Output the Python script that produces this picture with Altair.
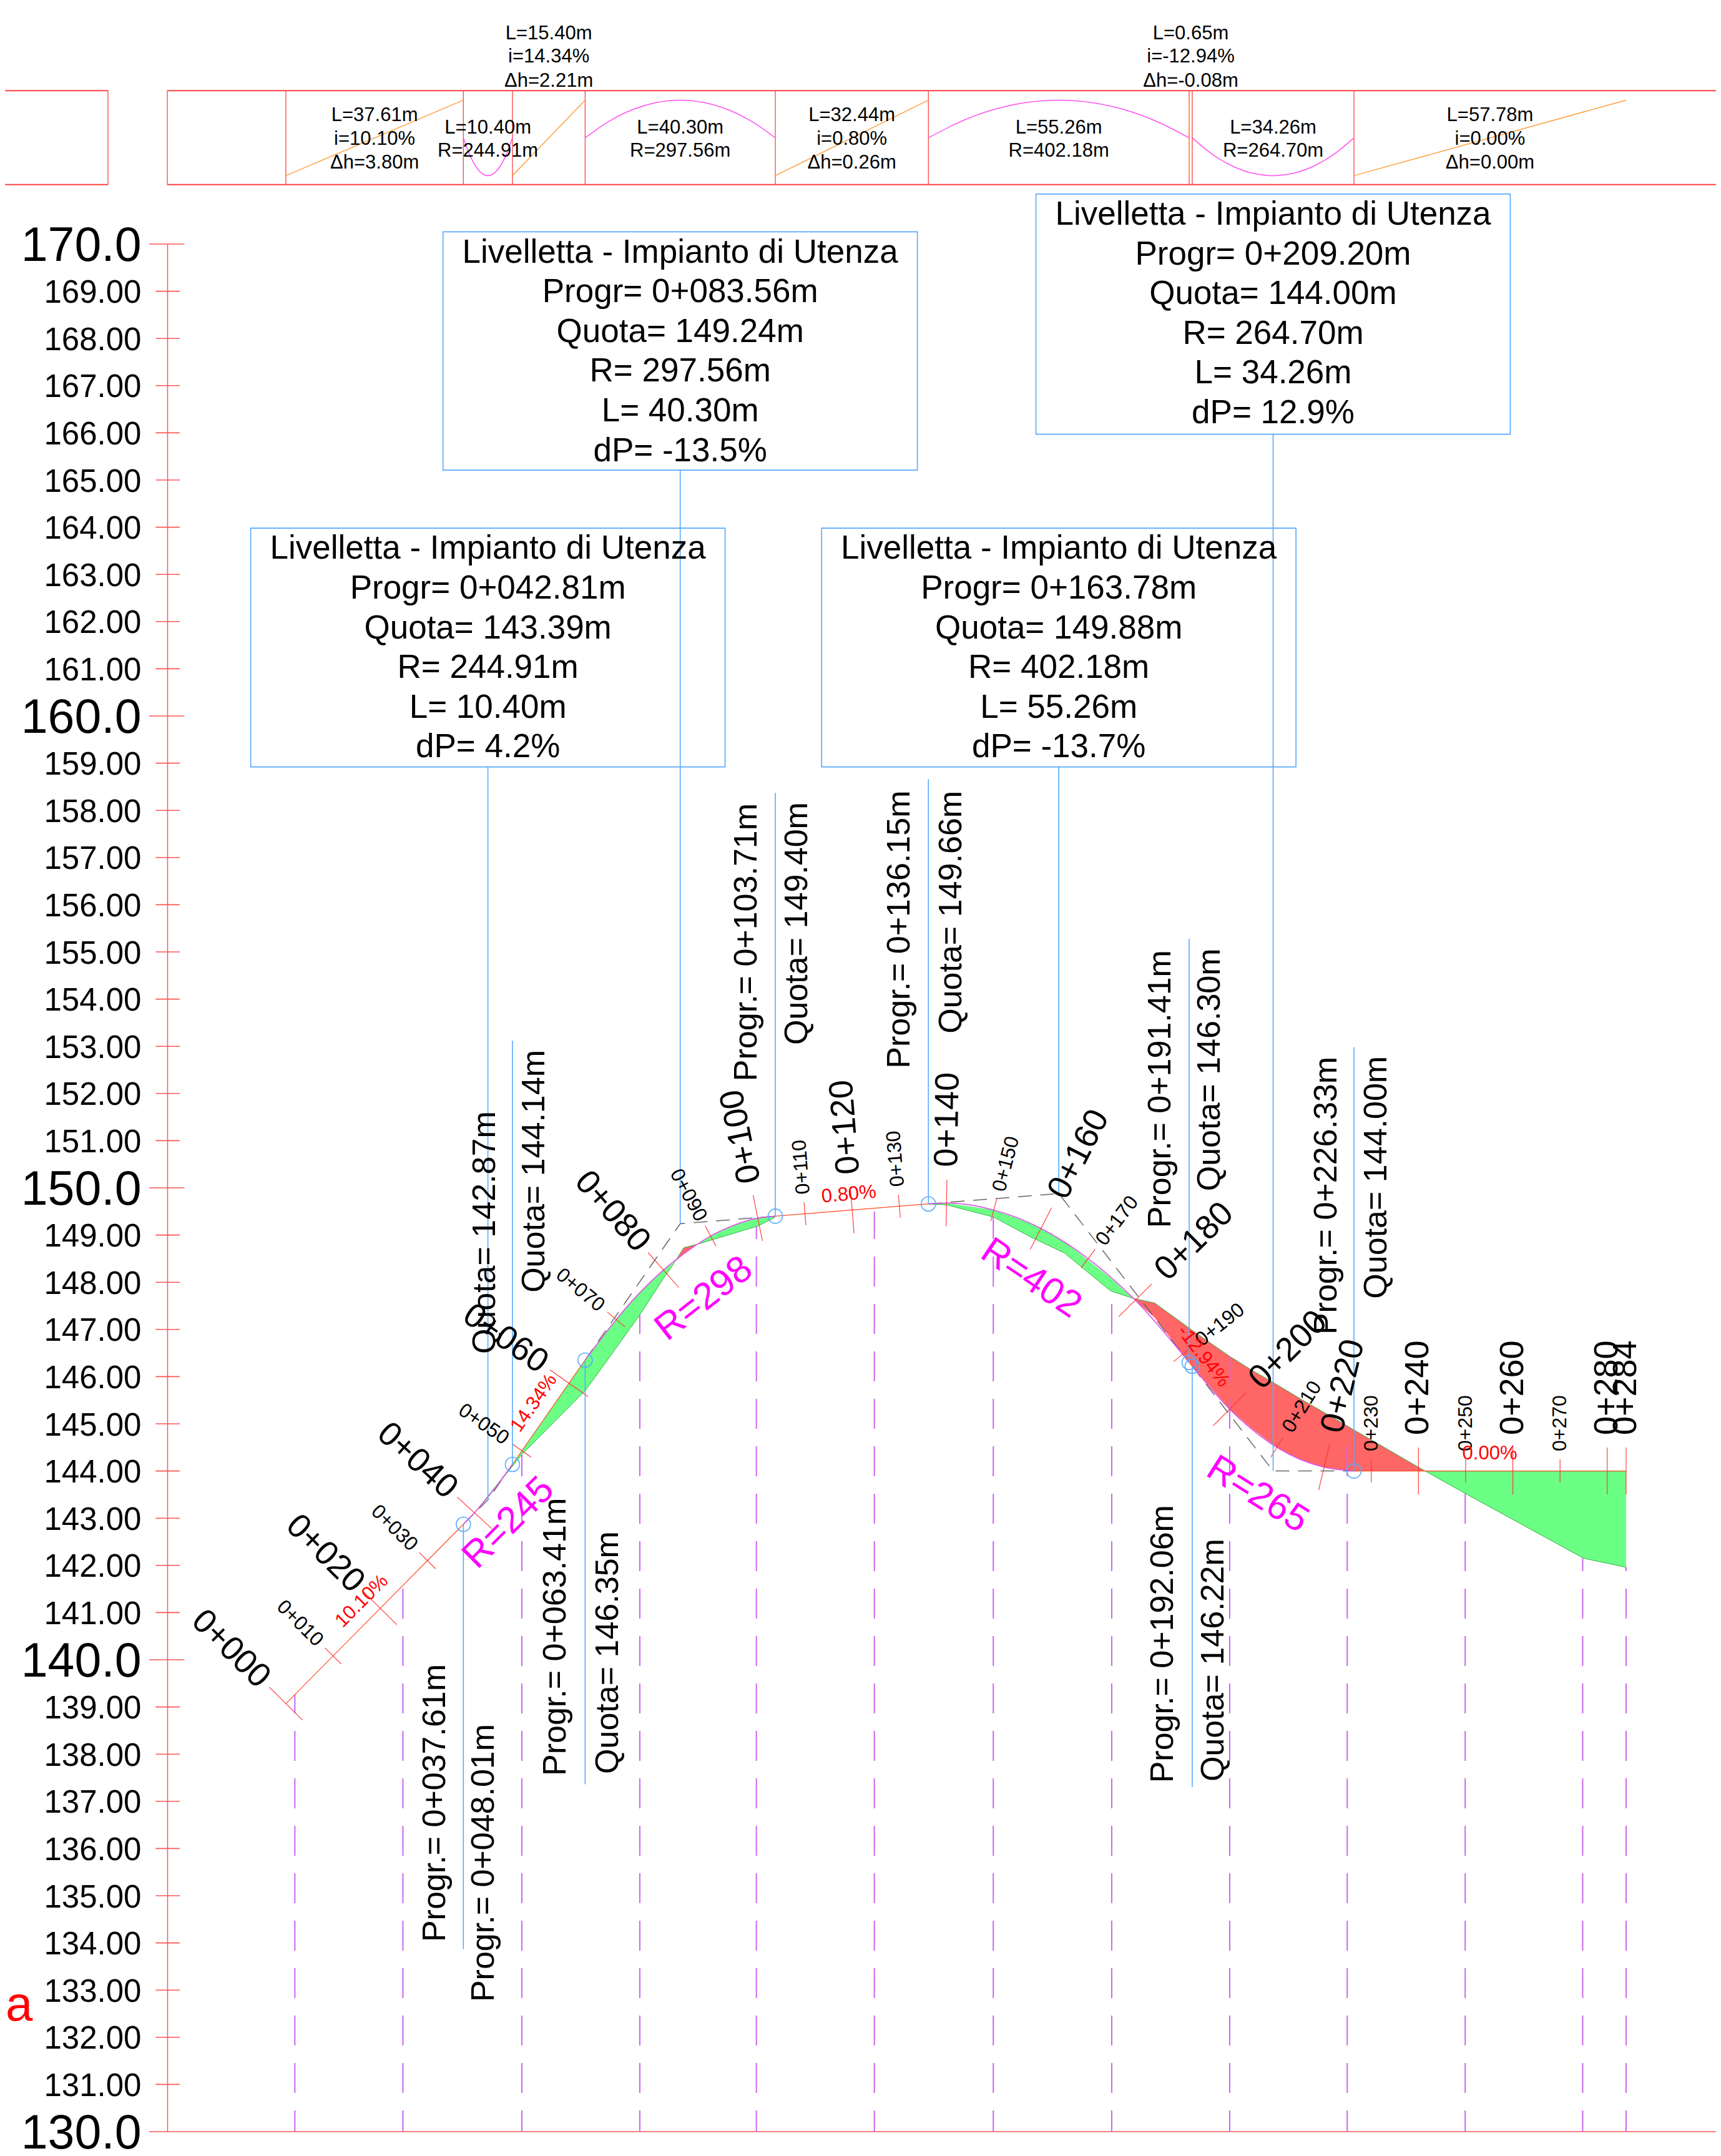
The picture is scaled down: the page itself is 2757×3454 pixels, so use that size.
import math
import altair as alt
import pandas as pd

FONT = "Liberation Sans"
PX_M_X, PX_M_Y = 7.56, 75.6
S_MIN, S_MAX = -25.13, 303.05
xs = alt.Scale(domain=[S_MIN, S_MAX], nice=False, zero=False)
ys = alt.Scale(domain=[130, 170], nice=False, zero=False)

elev_ticks = list(range(130, 171))
yaxis = alt.Axis(
    values=elev_ticks, title=None, grid=False, ticks=False, domain=True,
    domainColor="#FF5555", domainWidth=1.5, labelColor="#000000", labelFont=FONT,
    labelPadding=42, labelOverlap=False, labelFlush=False, labelBound=False, labelLimit=0, labelOffset=3,
    labelExpr="datum.value % 10 === 0 ? format(datum.value,'.1f') : format(datum.value,'.2f')",
    labelFontSize={"condition": {"test": "datum.value % 10 === 0", "value": 77}, "value": 51},
)
def X(f="s"):
    return alt.X(f"{f}:Q", scale=xs, axis=None)
def Y(f="e"):
    return alt.Y(f"{f}:Q", scale=ys, axis=yaxis)

# ---- profile values
T_s = [[0, 37.61], [48.01, 63.41], [103.71, 136.15], [191.41, 192.06], [226.33, 284]]
T_e = [[139.07, 142.87], [144.14, 146.35], [149.40, 149.66], [146.30, 146.22], [144.0, 144.0]]
C_s = [[37.61, 40, 42.81, 45.41, 48.01],
       [63.41, 70, 75, 80, 84.3, 90, 95, 100, 103.71],
       [136.15, 140, 150, 160, 170, 180, 191.41],
       [192.06, 200, 210, 220, 226.33]]
C_e = [[142.87, 143.12, 143.45, 143.78, 144.14],
       [146.35, 147.21, 147.78, 148.26, 148.60, 148.98, 149.21, 149.36, 149.40],
       [149.66, 149.68, 149.53, 149.14, 148.50, 147.62, 146.30],
       [146.22, 145.31, 144.50, 144.08, 144.00]]
PVI_s = [[37.61, 42.81, 48.01], [63.41, 83.56, 103.71], [136.15, 163.78, 191.41], [192.06, 209.20, 226.33]]
PVI_e = [[142.87, 143.39, 144.14], [146.35, 149.24, 149.40], [149.66, 149.88, 146.30], [146.22, 144.0, 144.0]]

green_s = [[40, 48.01, 50, 63.41, 70, 75, 80, 82.5], [87, 90, 95, 100, 103.71],
           [136.15, 140, 150, 157.8, 165, 174.7, 179.5], [241.4, 250, 275, 284]]
green_road = [[143.12, 144.14, 144.43, 146.35, 147.21, 147.78, 148.26, 148.44],
              [148.80, 148.98, 149.21, 149.36, 149.40],
              [149.66, 149.68, 149.53, 149.25, 148.86, 148.10, 147.66],
              [144, 144, 144, 144]]
green_terr = [[143.12, 144.10, 144.35, 145.70, 146.61, 147.31, 148.08, 148.44],
              [148.80, 148.89, 149.04, 149.19, 149.38],
              [149.66, 149.64, 149.38, 148.96, 148.62, 147.82, 147.66],
              [144, 143.52, 142.15, 141.96]]
red_s = [[82.5, 84.3, 87],
         [179.5, 184.1, 191.41, 192.06, 200, 204.8, 210, 215, 220, 225, 226.33, 230, 240, 241.4]]
red_road = [[148.44, 148.60, 148.80],
            [147.66, 147.25, 146.30, 146.22, 145.31, 144.89, 144.50, 144.24, 144.08, 144.01, 144, 144, 144, 144]]
red_terr = [[148.44, 148.73, 148.80],
            [147.66, 147.56, 147.03, 146.98, 146.43, 146.13, 145.83, 145.53, 145.24, 144.95, 144.87, 144.66, 144.08, 144]]

dash_s = [1.9, 24.8, 50, 75, 99.7, 124.7, 149.9, 175, 200, 224.9, 249.9, 274.8, 284]
dash_e = [139.27, 141.59, 144.35, 147.31, 149.19, 149.50, 149.38, 147.82, 146.43, 144.95, 143.52, 142.15, 141.96]

tick_s = [0, 10, 20, 30, 40, 50, 60, 70, 80, 90, 100, 110, 120, 130, 140, 150, 160, 170, 180, 190, 200, 210, 220, 230, 240, 250, 260, 270, 280, 284]
tick_e = [139.07, 140.08, 141.09, 142.10, 143.11, 144.43, 145.86, 147.21, 148.26, 148.98, 149.36, 149.45, 149.53, 149.61,
          149.68, 149.53, 149.14, 148.50, 147.62, 146.47, 145.31, 144.50, 144.08, 144, 144, 144, 144, 144, 144, 144]
tick_g = [.101, .101, .101, .101, .11, .1434, .1434, .1212, .0876, .054, .0204, .008, .008, .008,
          -.0016, -.0264, -.0513, -.0762, -.101, -.126, -.0994, -.0617, -.0239, 0, 0, 0, 0, 0, 0, 0]
tick_lab = ["0+%03d" % v for v in tick_s]

ticks, lab_r, lab_l = [], [], []
for s, e, g, t in zip(tick_s, tick_e, tick_g, tick_lab):
    major = s % 20 == 0 or s == 284
    half = 37.5 if major else 18.5
    n = math.hypot(10 * g, 1)
    ux, uy = -10 * g / n, -1 / n
    ticks.append(dict(s=s + half * ux / PX_M_X, e=e - half * uy / PX_M_Y,
                      s2=s - half * ux / PX_M_X, e2=e + half * uy / PX_M_Y))
    fs = 54 if major else 32
    down = g > 0.03
    gap = 11 if down else (20 if major else 13)
    row = dict(s=s + (half + gap) * ux / PX_M_X, e=e - (half + gap) * uy / PX_M_Y, t=t, fs=fs)
    if down:
        row["a"] = math.degrees(math.atan2(-uy, -ux)) % 360
        lab_r.append(row)
    else:
        row["a"] = math.degrees(math.atan2(uy, ux)) % 360
        lab_l.append(row)

# axis cross-ticks
axtick_s = [-29.0 if v % 10 == 0 else -27.6 for v in elev_ticks]
axtick_s2 = [303.05 if v == 130 else (-21.5 if v % 10 == 0 else -22.5) for v in elev_ticks]

# blue leader lines
blue_s = [37.61, 48.01, 63.41, 103.71, 136.15, 191.41, 192.06, 226.33, 42.81, 83.56, 163.78, 209.20]
blue_a = [142.87, 144.14, 146.35, 149.40, 149.66, 146.30, 146.22, 144.00, 143.39, 149.24, 149.88, 144.00]
blue_b = [133.87, 153.12, 137.36, 158.37, 158.66, 155.28, 137.30, 152.98, 158.92, 165.21, 158.92, 165.97]
circ_s = blue_s[:8]
circ_e = blue_a[:8]

# rotated vertical notes
note_t = ["Progr.= 0+037.61m", "Quota= 142.87m", "Progr.= 0+048.01m", "Quota= 144.14m",
          "Progr.= 0+063.41m", "Quota= 146.35m", "Progr.= 0+103.71m", "Quota= 149.40m",
          "Progr.= 0+136.15m", "Quota= 149.66m", "Progr.= 0+191.41m", "Quota= 146.30m",
          "Progr.= 0+192.06m", "Quota= 146.22m", "Progr.= 0+226.33m", "Quota= 144.00m"]
note_s = [31.6, 42.2, 41.9, 52.6, 57.1, 68.3, 97.6, 108.4, 130.0, 141.0, 185.3, 195.8, 185.8, 196.6, 220.5, 231.1]
note_e = [134.02, 146.48, 132.75, 147.78, 137.54, 137.58, 152.26, 153.03, 152.53, 153.27, 149.15, 149.93, 137.39, 137.42, 146.89, 147.65]

# radius labels
rad_t = ["R=245", "R=298", "R=402", "R=265"]
rad_s = [47.2, 88.6, 157.9, 205.9]
rad_e = [142.9, 147.65, 148.08, 143.5]
rad_a = [315, 322, 34, 32]
# grade labels
gr_t = ["10.10%", "14.34%", "0.80%", "-12.94%", "0.00%"]
gr_s = [16.1, 52.6, 119.3, 194.4, 255.1]
gr_e = [141.24, 145.44, 149.86, 146.43, 144.36]
gr_a = [315, 305, 355, 52, 0]

# call-out boxes
box_s = [42.81, 83.56, 163.78, 209.20]
box_top = [163.98, 170.26, 163.98, 171.06]
box_bot = [158.92, 165.21, 158.92, 165.97]
box_half = 50.26
box_lines = [
    ["Livelletta - Impianto di Utenza", "Progr= 0+042.81m", "Quota= 143.39m", "R= 244.91m", "L= 10.40m", "dP= 4.2%"],
    ["Livelletta - Impianto di Utenza", "Progr= 0+083.56m", "Quota= 149.24m", "R= 297.56m", "L= 40.30m", "dP= -13.5%"],
    ["Livelletta - Impianto di Utenza", "Progr= 0+163.78m", "Quota= 149.88m", "R= 402.18m", "L= 55.26m", "dP= -13.7%"],
    ["Livelletta - Impianto di Utenza", "Progr= 0+209.20m", "Quota= 144.00m", "R= 264.70m", "L= 34.26m", "dP= 12.9%"],
]
box_txt = []
for c, top, lines_ in zip(box_s, box_top, box_lines):
    for k, t in enumerate(lines_):
        box_txt.append(dict(s=c, e=top - 0.44 - 0.841 * k, t=t))

# top strip
STRIP_T, STRIP_B = 173.25, 171.26
STRIP_HI, STRIP_MID, STRIP_LO = 173.05, 172.25, 171.45
strip_h_s = [[-59.5, -37.7], [-25.13, 303.05]]
strip_v = [-37.7, -25.13, 0, 37.61, 48.01, 63.41, 103.71, 136.15, 191.41, 192.06, 226.33]
strip_tan_s = [[0, 37.61], [48.01, 63.41], [103.71, 136.15], [191.41, 191.41], [226.33, 284]]
strip_tan_e = [[STRIP_LO, STRIP_HI], [STRIP_LO, STRIP_HI], [STRIP_LO, STRIP_HI], [STRIP_HI, STRIP_LO], [STRIP_LO, STRIP_HI]]
arc_s = [[37.61, 38.91, 40.21, 41.51, 42.81, 44.11, 45.41, 46.71, 48.01],
         [63.41, 68.45, 73.49, 78.52, 83.56, 88.60, 93.63, 98.67, 103.71],
         [136.15, 143.06, 149.97, 156.87, 163.78, 170.69, 177.60, 184.50, 191.41],
         [192.06, 196.34, 200.63, 204.91, 209.20, 213.48, 217.77, 222.05, 226.33]]
sag_e = [172.25, 171.90, 171.65, 171.50, 171.45, 171.50, 171.65, 171.90, 172.25]
crest_e = [172.25, 172.60, 172.85, 173.00, 173.05, 173.00, 172.85, 172.60, 172.25]
arc_e = [sag_e, crest_e, crest_e, sag_e]

tan_cx = [18.8, 55.71, 119.93, 191.74, 255.16]
tan_rows = [172.75, 172.25, 171.75]
tan_above = [174.48, 173.99, 173.48]
tan_txt = [["L=37.61m", "i=10.10%", "Δh=3.80m"], ["L=15.40m", "i=14.34%", "Δh=2.21m"],
           ["L=32.44m", "i=0.80%", "Δh=0.26m"], ["L=0.65m", "i=-12.94%", "Δh=-0.08m"],
           ["L=57.78m", "i=0.00%", "Δh=0.00m"]]
tan_is_above = [False, True, False, True, False]
arc_cx = [42.81, 83.56, 163.78, 209.20]
arc_rows = [172.49, 172.0]
arc_txt = [["L=10.40m", "R=244.91m"], ["L=40.30m", "R=297.56m"], ["L=55.26m", "R=402.18m"], ["L=34.26m", "R=264.70m"]]

strip_txt = []
for c, ab, lines_ in zip(tan_cx, tan_is_above, tan_txt):
    for e, t in zip(tan_above if ab else tan_rows, lines_):
        strip_txt.append(dict(s=c, e=e, t=t))
for c, lines_ in zip(arc_cx, arc_txt):
    for e, t in zip(arc_rows, lines_):
        strip_txt.append(dict(s=c, e=e, t=t))

def series(ss, ee):
    rows = [dict(g=i, s=a, e=b) for i, (sa, ea) in enumerate(zip(ss, ee)) for a, b in zip(sa, ea)]
    d = pd.DataFrame(rows)
    d["i"] = range(len(d))
    return d

def lines(df, color, width, dash=None, interp="linear"):
    kw = dict(color=color, strokeWidth=width, interpolate=interp)
    if dash:
        kw["strokeDash"] = dash
    return alt.Chart(df).mark_line(**kw).encode(x=X(), y=Y(), detail="g:N", order=alt.Order("i:Q"))

def rules(df, color, width, dash=None, offset=None):
    kw = dict(color=color, strokeWidth=width)
    if dash:
        kw["strokeDash"] = dash
    if offset is not None:
        kw["strokeDashOffset"] = offset
    return alt.Chart(df).mark_rule(**kw).encode(x=X(), y=Y(), x2="s2:Q", y2="e2:Q")

def texts(df, size=None, color="#000000", align="center", angle=None, dy=None):
    kw = dict(font=FONT, align=align, baseline="middle", color=color)
    if size:
        kw["fontSize"] = size
    if angle is not None:
        kw["angle"] = angle
    if dy is not None:
        kw["dy"] = dy
    enc = dict(x=X(), y=Y(), text="t:N")
    if "a" in df.columns:
        enc["angle"] = alt.Angle("a:Q", scale=None)
    if "fs" in df.columns:
        enc["size"] = alt.Size("fs:Q", scale=None, legend=None)
    return alt.Chart(df).mark_text(**kw).encode(**enc)

def area_one(ss, up, lo, color):
    df = pd.DataFrame(dict(s=ss, e=up, e2=lo))
    return alt.Chart(df).mark_area(color=color, opacity=1, line=False, interpolate="linear").encode(
        x=X(), y=Y(), y2=alt.Y2("e2:Q"))

GREEN, RED = "#6CFF85", "#FF6666"
BLUE = "#55AAFF"
layers = []
layers.append(rules(pd.DataFrame(dict(s=axtick_s, s2=axtick_s2, e=elev_ticks, e2=elev_ticks)), "#FF5555", 1.6))
# fills, one layer per polygon
for ss, up, lo in zip(green_s, green_road, green_terr):
    layers.append(area_one(ss, up, lo, GREEN))
for ss, up, lo in zip(red_s, red_terr, red_road):
    layers.append(area_one(ss, up, lo, RED))
layers.append(lines(series(green_s, green_terr), "#30B040", 1))
layers.append(lines(series(red_s, red_terr), "#30B040", 1))
# dashed verticals
layers.append(rules(pd.DataFrame(dict(s=dash_s, s2=dash_s, e=[130] * len(dash_s), e2=dash_e)), "#CC66F0", 2, [48, 28], 14))
# PVI polylines
layers.append(lines(series(PVI_s, PVI_e), "#666666", 1.5, [22, 14]))
# road
layers.append(lines(series(T_s, T_e), "#FF4A20", 1.2))
layers.append(lines(series(C_s, C_e), "#E050E8", 1.6, None, "monotone"))
# ticks
layers.append(rules(pd.DataFrame(ticks), "#FF3030", 1.1))
# blue leaders
layers.append(rules(pd.DataFrame(dict(s=blue_s, s2=blue_s, e=blue_a, e2=blue_b)), BLUE, 1.6))
layers.append(alt.Chart(pd.DataFrame(dict(s=circ_s, e=circ_e))).mark_point(
    shape="circle", size=530, filled=False, color=BLUE, strokeWidth=1.6, opacity=1).encode(x=X(), y=Y()))
# boxes
layers.append(alt.Chart(pd.DataFrame(dict(s=[c - box_half for c in box_s], s2=[c + box_half for c in box_s],
                                          e=box_top, e2=box_bot))).mark_rect(
    fillOpacity=0, stroke=BLUE, strokeWidth=1.6).encode(x=X(), y=Y(), x2="s2:Q", y2="e2:Q"))
layers.append(texts(pd.DataFrame(box_txt), 53))
# strip
layers.append(rules(pd.DataFrame([dict(s=a[0], s2=a[1], e=y, e2=y) for a in strip_h_s for y in (STRIP_T, STRIP_B)]),
                    "#FF4040", 2))
layers.append(rules(pd.DataFrame(dict(s=strip_v, s2=strip_v, e=[STRIP_T] * len(strip_v), e2=[STRIP_B] * len(strip_v))),
                    "#FF4040", 1.3))
layers.append(lines(series(strip_tan_s, strip_tan_e), "#FFA040", 1.5))
layers.append(lines(series(arc_s, arc_e), "#FF50F0", 1.5, None, "monotone"))
layers.append(texts(pd.DataFrame(strip_txt), 31, dy=2))
# station labels
layers.append(texts(pd.DataFrame(lab_r), align="right"))
layers.append(texts(pd.DataFrame(lab_l), align="left"))
# notes
layers.append(texts(pd.DataFrame(dict(s=note_s, e=note_e, t=note_t)), 52, align="left", angle=270))
layers.append(texts(pd.DataFrame(dict(s=rad_s, e=rad_e, t=rad_t, a=rad_a)), 60, "#FF00FF"))
layers.append(texts(pd.DataFrame(dict(s=gr_s, e=gr_e, t=gr_t, a=gr_a)), 31, "#FF0000"))
layers.append(texts(pd.DataFrame(dict(s=[-59.4], e=[132.66], t=["a"])), 78, "#FF0000", align="left"))

chart = alt.layer(*layers).properties(
    width=2481, height=3024,
    autosize=alt.AutoSizeParams(type="none"),
    padding={"left": 260, "top": 383, "right": 0, "bottom": 31},
    background="white",
).configure_view(stroke=None)

chart.save("out.html", embed_options={"renderer": "svg", "actions": False})
